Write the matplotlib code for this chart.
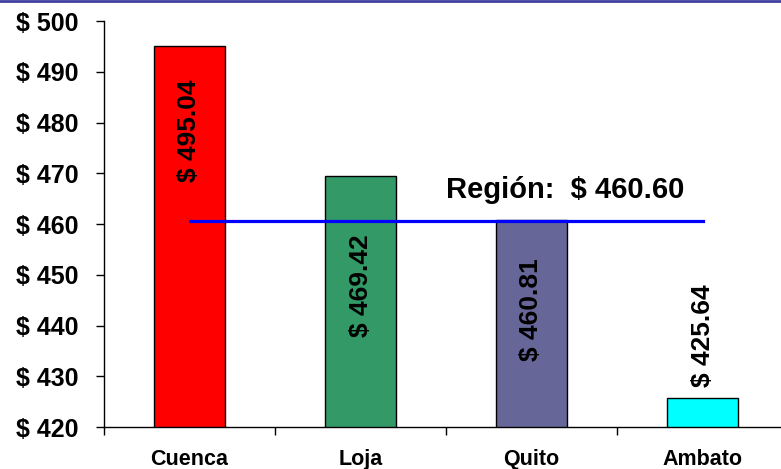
import matplotlib.pyplot as plt
from matplotlib.lines import Line2D

# datos
ciudades = ['Cuenca', 'Loja', 'Quito', 'Ambato']
valores = [495.04, 469.42, 460.81, 425.64]
region = 460.60
colores = ['#FF0000', '#339966', '#666699', '#00FFFF']
# altura de las etiquetas (posicion en el eje y)
pos_etiquetas = [478.4, 447.9, 443.1, 438.0]

plt.rcParams['font.family'] = ['Liberation Sans', 'DejaVu Sans']
plt.rcParams['font.weight'] = 'bold'

fig = plt.figure(figsize=(7.81, 4.69), dpi=100)
ax = fig.add_axes([104 / 781, 1 - 427 / 469, 684 / 781, 406 / 469])

x = list(range(len(ciudades)))
ax.bar(x, valores, width=0.41, color=colores, edgecolor='black', linewidth=1.0, zorder=2)

# linea del promedio regional
ax.plot([x[0], x[-1]], [region, region], color='#0000FF', linewidth=2.3, zorder=3)
ax.text(1.5, 466.7, 'Región:  $ %.2f' % region, fontsize=21, fontweight='bold',
        ha='left', va='center', zorder=4)

for i in x:
    ax.text(i, pos_etiquetas[i], '$ %.2f' % valores[i], rotation=90, fontsize=19,
            fontweight='bold', ha='center', va='center', zorder=4)

ax.set_xlim(-0.5, 3.5)
ax.set_ylim(420, 500)
ax.set_yticks(range(420, 501, 10))
ax.set_yticklabels(['$ %d' % v for v in range(420, 501, 10)], fontsize=18, fontweight='bold')
ax.set_xticks(x)
ax.set_xticklabels(ciudades, fontsize=15.5, fontweight='bold')
ax.set_xticks([-0.5, 0.5, 1.5, 2.5], minor=True)
ax.tick_params(axis='x', which='major', length=0, pad=16)
ax.tick_params(axis='x', which='minor', length=6, width=1)
ax.tick_params(axis='y', length=6, width=1, pad=12)

ax.spines['top'].set_visible(False)
ax.spines['right'].set_visible(False)
ax.spines['left'].set_linewidth(1)
ax.spines['bottom'].set_linewidth(1)

# borde superior
fig.add_artist(Line2D([0, 1], [0.998, 0.998], color='#4040A0', linewidth=2, transform=fig.transFigure))

fig.savefig('out.png', dpi=100)
